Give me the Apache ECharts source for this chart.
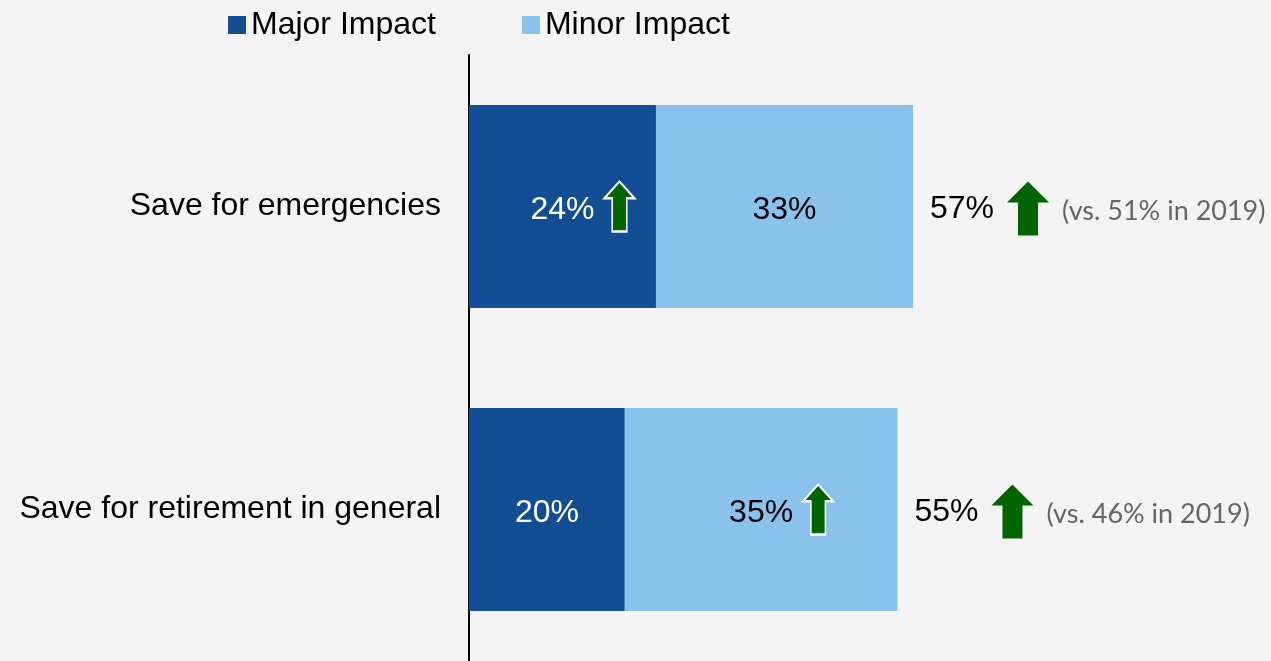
<!DOCTYPE html>
<html lang="en">
<head>
    <meta charset="UTF-8">
    <title>Saving impact</title>
    <script src="https://cdn.jsdelivr.net/npm/echarts@6/dist/echarts.min.js"></script>
    <style>
        html, body { margin: 0; padding: 0; background: #f4f4f4; }
        #chart { width: 1271px; height: 661px; }
    </style>
</head>
<body>
<div id="chart"></div>
<script>
    // rows, top to bottom
    var categories = ['Save for emergencies', 'Save for retirement in general'];
    var major = [24, 20];
    var minor = [33, 35];
    var total = [57, 55];
    var prior2019 = [51, 46];
    // which segment carries the small "up" arrow
    var arrowIn = ['major', 'minor'];

    var bigArrow = 'path://M21,0 L42,21 L31,21 L31,54 L11,54 L11,21 L0,21 Z';
    var smallArrow = 'path://M16.5,0 L33,17 L24.5,17 L24.5,51 L8.5,51 L8.5,17 L0,17 Z';

    var chart = echarts.init(document.getElementById('chart'));

    var insideArrows = categories.map(function(c, i) {
        var mid = arrowIn[i] === 'major' ? major[i] / 2 : major[i] + minor[i] / 2;
        return [mid, c];
    });

    chart.setOption({
        backgroundColor: '#f4f4f4',
        animation: false,
        legend: {
            data: ['Major Impact', 'Minor Impact'],
            left: 228,
            top: 9,
            padding: 0,
            itemWidth: 18,
            itemHeight: 18,
            itemGap: 86,
            icon: 'rect',
            textStyle: { fontFamily: 'Liberation Sans', fontSize: 32, color: '#000' }
        },
        grid: { left: 469, right: 23, top: 55, bottom: 0 },
        xAxis: { type: 'value', min: 0, max: 100, show: false },
        yAxis: {
            type: 'category',
            data: categories,
            inverse: true,
            axisLine: { lineStyle: { color: '#000', width: 2 } },
            axisTick: { show: false },
            axisLabel: { fontFamily: 'Liberation Sans', fontSize: 32, color: '#000', margin: 28, padding: [8, 0, 0, 0] }
        },
        series: [
            {
                name: 'Major Impact', type: 'bar', stack: 'a', barWidth: 203,
                data: major,
                itemStyle: { color: '#124e94' },
                label: { show: true, position: 'inside', color: '#fff', fontFamily: 'Liberation Sans', fontSize: 32,
                    offset: [0, 4],
                    formatter: function(p) { return p.value + '%'; } }
            },
            {
                name: 'Minor Impact', type: 'bar', stack: 'a', barWidth: 203,
                data: minor,
                itemStyle: { color: '#89c3ec' },
                label: { show: true, position: 'inside', color: '#000', fontFamily: 'Liberation Sans', fontSize: 32,
                    offset: [0, 4],
                    formatter: function(p) { return p.value + '%'; } }
            },
            {
                name: 'total', type: 'bar', barWidth: 203, barGap: '-100%', z: 1,
                data: total,
                itemStyle: { color: 'rgba(0,0,0,0)' },
                label: {
                    show: true, position: 'right', distance: 17,
                    formatter: function(p) {
                        return '{t|' + p.value + '%}{g|}{p|(vs. ' + prior2019[p.dataIndex] + '% in 2019)}';
                    },
                    rich: {
                        t: { fontFamily: 'Liberation Sans', fontSize: 32, color: '#000', padding: [6, 0, 0, 0] },
                        g: { width: 68 },
                        p: { fontFamily: 'Lato', fontSize: 27, color: '#666', padding: [10, 0, 0, 0] }
                    }
                }
            },
            {
                name: 'arrowTotal', type: 'scatter',
                data: categories.map(function(c, i) { return [total[i], c]; }),
                symbol: bigArrow, symbolSize: [42, 54], symbolOffset: [115, 2],
                itemStyle: { color: '#006400', opacity: 1 }, z: 5
            },
            {
                name: 'arrowInside', type: 'scatter',
                data: insideArrows,
                symbol: smallArrow, symbolSize: [30, 50], symbolOffset: [57, 0],
                itemStyle: { color: '#006400', borderColor: '#fff', borderWidth: 2, opacity: 1 }, z: 5
            }
        ]
    });
</script>
</body>
</html>
